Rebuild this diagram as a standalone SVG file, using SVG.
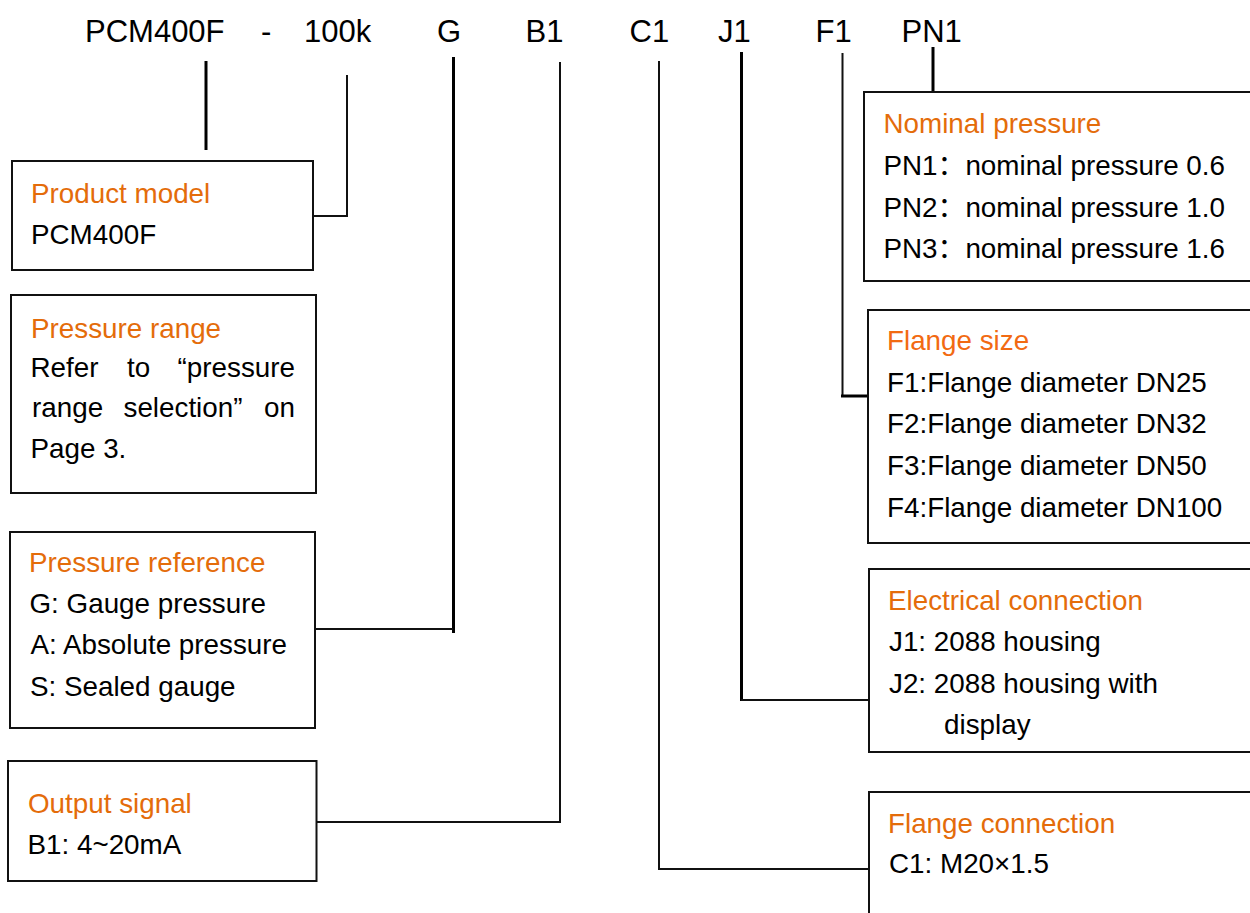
<svg xmlns="http://www.w3.org/2000/svg" width="1250" height="913" viewBox="0 0 1250 913">
<style>
text{font-family:"Liberation Sans",Arial,sans-serif;font-size:27.8px;fill:#000}
.top{font-size:31px}
.t{fill:#E46C0A}
.box{fill:#fff;stroke:#111;stroke-width:2}
.thick{stroke:#000;stroke-width:3;fill:none}
.thin{stroke:#111;stroke-width:2;fill:none}
</style>
<rect width="1250" height="913" fill="#fff"/>
<g id="code">
<text class="top" x="85" y="41.7">PCM400F</text>
<text class="top" x="261" y="41.7">-</text>
<text class="top" x="304" y="41.7">100k</text>
<text class="top" x="437" y="41.7">G</text>
<text class="top" x="525.5" y="41.7">B1</text>
<text class="top" x="629.5" y="41.7">C1</text>
<text class="top" x="718" y="41.7">J1</text>
<text class="top" x="815.5" y="41.7">F1</text>
<text class="top" x="901.5" y="41.7">PN1</text>
</g>
<g id="connectors">
<line class="thick" x1="206" y1="61" x2="206" y2="150"/>
<polyline class="thin" points="347,75 347,216 313,216"/>
<line class="thick" x1="453.5" y1="57" x2="453.5" y2="633"/>
<line class="thin" x1="315" y1="629" x2="453" y2="629"/>
<polyline class="thin" points="560,62 560,822 316,822"/>
<polyline class="thin" points="659,61 659,869 869,869"/>
<line class="thick" x1="741.5" y1="52" x2="741.5" y2="701"/>
<line class="thin" x1="741" y1="700" x2="869" y2="700"/>
<line class="thin" x1="842.5" y1="53" x2="842.5" y2="397"/>
<line class="thick" x1="841" y1="396" x2="868" y2="396"/>
<line class="thick" x1="933" y1="47" x2="933" y2="92"/>
</g>
<g id="product-model">
<rect class="box" x="12" y="161" width="301" height="109"/>
<text class="t" x="31" y="202.5">Product model</text>
<text x="31" y="244">PCM400F</text>
</g>
<g id="pressure-range">
<rect class="box" x="11" y="295" width="305" height="198"/>
<text class="t" x="31" y="338">Pressure range</text>
<text x="30.5" y="377">Refer</text>
<text x="127" y="377">to</text>
<text x="295" y="377" text-anchor="end">“pressure</text>
<text x="32" y="417">range</text>
<text x="123.5" y="417">selection”</text>
<text x="295" y="417" text-anchor="end">on</text>
<text x="30.5" y="458">Page 3.</text>
</g>
<g id="pressure-reference">
<rect class="box" x="10" y="532" width="305" height="196"/>
<text class="t" x="29" y="572">Pressure reference</text>
<text x="29.5" y="613">G: Gauge pressure</text>
<text x="30.5" y="654">A: Absolute pressure</text>
<text x="30" y="696">S: Sealed gauge</text>
</g>
<g id="output-signal">
<rect class="box" x="8" y="761" width="308.5" height="120"/>
<text class="t" x="28" y="813">Output signal</text>
<text x="27.5" y="854">B1: 4~20mA</text>
</g>
<g id="nominal-pressure">
<rect class="box" x="864" y="92" width="400" height="189"/>
<text class="t" x="883.5" y="133">Nominal pressure</text>
<text x="883.5" y="175">PN1<tspan font-family="'Noto Sans CJK SC',sans-serif">：</tspan>nominal pressure 0.6</text>
<text x="883.5" y="216.7">PN2<tspan font-family="'Noto Sans CJK SC',sans-serif">：</tspan>nominal pressure 1.0</text>
<text x="883.5" y="258">PN3<tspan font-family="'Noto Sans CJK SC',sans-serif">：</tspan>nominal pressure 1.6</text>
</g>
<g id="flange-size">
<rect class="box" x="868" y="310" width="400" height="233"/>
<text class="t" x="887" y="350" style="fill:#F26A12">Flange size</text>
<text x="887" y="392">F1:Flange diameter DN25</text>
<text x="887" y="433">F2:Flange diameter DN32</text>
<text x="887" y="475">F3:Flange diameter DN50</text>
<text x="887" y="517">F4:Flange diameter DN100</text>
</g>
<g id="electrical-connection">
<rect class="box" x="869" y="569" width="400" height="183"/>
<text class="t" x="888" y="610">Electrical connection</text>
<text x="889" y="651">J1: 2088 housing</text>
<text x="889" y="693">J2: 2088 housing with</text>
<text x="944" y="734">display</text>
</g>
<g id="flange-connection">
<rect class="box" x="869" y="792" width="400" height="200"/>
<text class="t" x="888" y="833">Flange connection</text>
<text x="889" y="873">C1: M20×1.5</text>
</g>
</svg>
